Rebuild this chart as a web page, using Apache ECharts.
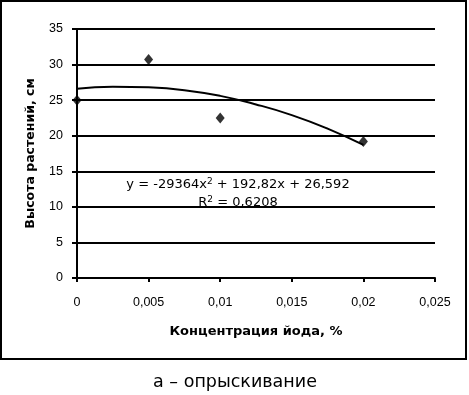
<!DOCTYPE html>
<html>
<head>
<meta charset="utf-8">
<script src="https://cdn.jsdelivr.net/npm/echarts@6/dist/echarts.min.js"></script>
<style>
  html, body { margin: 0; padding: 0; background: #fff; }
  #chart-container { width: 469px; height: 395px; }
</style>
</head>
<body>
<div id="chart-container"></div>
<script>
var dom = document.getElementById("chart-container");
var myChart = echarts.init(dom, null, { renderer: "canvas" });

// measured points (concentration, height)
var concX = [0, 0.005, 0.01, 0.02];
var heightY = [25, 30.7, 22.5, 19.2];

// trend line
var trendX = [0, 0.0025, 0.005, 0.0075, 0.01, 0.0125, 0.015, 0.0175, 0.02];
var trendY = [26.6, 26.9, 26.8, 26.4, 25.6, 24.4, 22.9, 21.0, 18.7];

var xTicks = ["0", "0,005", "0,01", "0,015", "0,02", "0,025"];

var font = "Liberation Sans, Arial, sans-serif";
var wide = "DejaVu Sans, sans-serif";

var option = {
  animation: false,
  backgroundColor: "#fff",
  grid: { left: 77, right: 34, top: 29, bottom: 117 },
  xAxis: {
    type: "value",
    min: 0,
    max: 0.025,
    interval: 0.005,
    name: "Концентрация йода, %",
    nameLocation: "middle",
    nameGap: 47,
    nameTextStyle: { color: "#000", fontFamily: wide, fontSize: 13, fontWeight: "bold" },
    axisLine: { onZero: false, lineStyle: { color: "#000", width: 2 } },
    axisTick: { show: true, length: 4, lineStyle: { color: "#000", width: 2 } },
    axisLabel: {
      color: "#000", fontFamily: font, fontSize: 12.5, margin: 18,
      formatter: function (v) { return xTicks[Math.round(v / 0.005)]; }
    },
    splitLine: { show: false }
  },
  yAxis: {
    type: "value",
    min: 0,
    max: 35,
    interval: 5,
    name: "Высота растений, см",
    nameLocation: "middle",
    nameGap: 40,
    nameTextStyle: { color: "#000", fontFamily: wide, fontSize: 12.5, fontWeight: "bold" },
    axisLine: { show: true, lineStyle: { color: "#000", width: 2 } },
    axisTick: { show: true, length: 5, lineStyle: { color: "#000", width: 2 } },
    axisLabel: { color: "#000", fontFamily: font, fontSize: 12.5, margin: 14 },
    splitLine: { show: true, lineStyle: { color: "#000", width: 2 } }
  },
  series: [
    {
      type: "line",
      data: trendX.map(function (x, i) { return [x, trendY[i]]; }),
      smooth: true,
      showSymbol: false,
      symbol: "none",
      lineStyle: { color: "#000", width: 2 },
      z: 3
    },
    {
      type: "scatter",
      data: concX.map(function (x, i) { return [x, heightY[i]]; }),
      symbol: "diamond",
      symbolSize: [9, 11],
      itemStyle: { color: "#000" },
      z: 4
    }
  ],
  graphic: [
    {
      type: "rect",
      shape: { x: 1, y: 1, width: 465, height: 358 },
      style: { fill: null, stroke: "#000", lineWidth: 2 },
      silent: true
    },
    {
      type: "text",
      x: 238, y: 185,
      style: {
        text: "{n|y = -29364x}{s|2}{n| + 192,82x + 26,592}",
        align: "center", verticalAlign: "middle",
        rich: {
          n: { fontFamily: wide, fontSize: 13, fill: "#000" },
          s: { fontFamily: wide, fontSize: 9, fill: "#000", padding: [0, 0, 7, 0] }
        }
      },
      z: 10
    },
    {
      type: "text",
      x: 238, y: 203,
      style: {
        text: "{n|R}{s|2}{n| = 0,6208}",
        align: "center", verticalAlign: "middle",
        rich: {
          n: { fontFamily: wide, fontSize: 13, fill: "#000" },
          s: { fontFamily: wide, fontSize: 9, fill: "#000", padding: [0, 0, 7, 0] }
        }
      },
      z: 10
    },
    {
      type: "text",
      x: 235, y: 382,
      style: {
        text: "а – опрыскивание",
        align: "center", verticalAlign: "middle",
        fontFamily: wide, fontSize: 17.5, fill: "#000"
      }
    }
  ]
};

myChart.setOption(option);
</script>
</body>
</html>
